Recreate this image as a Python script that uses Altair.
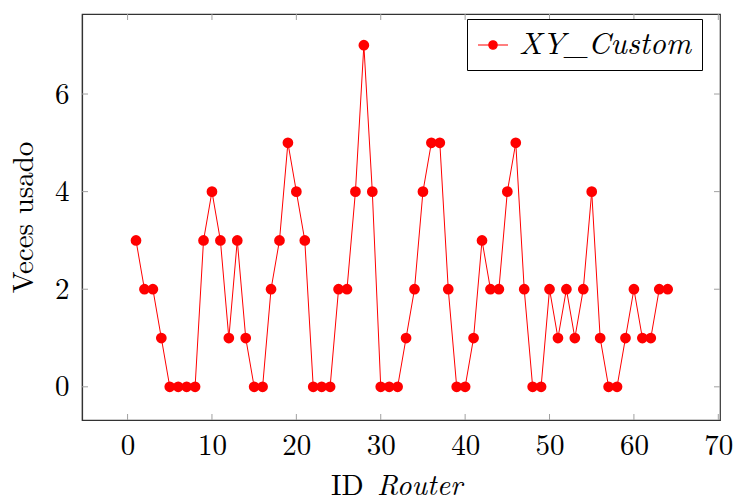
import altair as alt
import pandas as pd

router_ids = list(range(1, 65))
veces = [3, 2, 2, 1, 0, 0, 0, 0, 3, 4, 3, 1, 3, 1, 0, 0,
         2, 3, 5, 4, 3, 0, 0, 0, 2, 2, 4, 7, 4, 0, 0, 0,
         1, 2, 4, 5, 5, 2, 0, 0, 1, 3, 2, 2, 4, 5, 2, 0,
         0, 2, 1, 2, 1, 2, 4, 1, 0, 0, 1, 2, 1, 1, 2, 2]
series_name = "XY_Custom"
x_ticks = [0, 10, 20, 30, 40, 50, 60, 70]
y_ticks = [0, 2, 4, 6]

W, H = 638, 406
FONT = "Latin Modern Roman"
FRAME = "#333333"

df = pd.DataFrame({"id": router_ids, "v": veces, "s": [series_name] * len(router_ids)})
xt = pd.DataFrame({"t": x_ticks})
yt = pd.DataFrame({"t": y_ticks})
one = pd.DataFrame({"k": [0]})

xs = alt.Scale(domain=[-5.4, 70.2], nice=False, zero=False)
ys = alt.Scale(domain=[-0.68, 7.64], nice=False, zero=False)

sym = "M-1,0H1M0.28,0A0.28,0.28,0,1,1,-0.28,0A0.28,0.28,0,1,1,0.28,0Z"

base = alt.Chart(df)
line = base.mark_line(color="red", strokeWidth=1).encode(
    x=alt.X("id:Q", scale=xs,
            axis=alt.Axis(values=x_ticks, title=None, ticks=False, grid=False,
                          labelPadding=11, domainColor=FRAME,
                          labelFont=FONT, labelFontSize=29, labelColor="black")),
    y=alt.Y("v:Q", scale=ys,
            axis=alt.Axis(values=y_ticks, title="Veces usado", ticks=False, grid=False,
                          labelPadding=13, titlePadding=16, domainColor=FRAME,
                          labelFont=FONT, labelFontSize=29, labelColor="black",
                          titleFont=FONT, titleFontSize=29, titleFontWeight="normal",
                          titleColor="black")),
    color=alt.Color("s:N", scale=alt.Scale(range=["red"]),
                    legend=alt.Legend(title=None, orient="none", legendX=385, legendY=5,
                                      symbolType=sym, symbolSize=900, symbolStrokeWidth=1.2,
                                      symbolFillColor="red", symbolStrokeColor="red",
                                      labelFont=FONT, labelFontStyle="italic", labelFontSize=31,
                                      labelColor="black", labelLimit=0,
                                      strokeColor="black", padding=10, labelOffset=10,
                                      fillColor="white")),
)
pts = base.mark_circle(color="red", size=115, opacity=1).encode(
    x=alt.X("id:Q", scale=xs), y=alt.Y("v:Q", scale=ys))

tick_col = "#a0a0a0"
xb = alt.Chart(xt).mark_rule(color=tick_col, strokeWidth=1).encode(
    x=alt.X("t:Q", scale=xs), y=alt.value(H), y2=alt.value(H - 6))
xtp = alt.Chart(xt).mark_rule(color=tick_col, strokeWidth=1).encode(
    x=alt.X("t:Q", scale=xs), y=alt.value(0), y2=alt.value(6))
yl = alt.Chart(yt).mark_rule(color=tick_col, strokeWidth=1).encode(
    y=alt.Y("t:Q", scale=ys), x=alt.value(0), x2=alt.value(6))
yr = alt.Chart(yt).mark_rule(color=tick_col, strokeWidth=1).encode(
    y=alt.Y("t:Q", scale=ys), x=alt.value(W), x2=alt.value(W - 6))

t1 = alt.Chart(one).mark_text(text="ID", font=FONT, fontSize=29, align="left",
                              baseline="alphabetic", color="black").encode(
    x=alt.value(249), y=alt.value(481))
t2 = alt.Chart(one).mark_text(text="Router", font=FONT, fontSize=29, fontStyle="italic",
                              align="left", baseline="alphabetic", color="black").encode(
    x=alt.value(295), y=alt.value(481))

chart = alt.layer(xb, xtp, yl, yr, line, pts, t1, t2).properties(
    width=W, height=H,
    autosize=alt.AutoSizeParams(type="none"),
    padding={"left": 82, "top": 14, "right": 13, "bottom": 82},
).configure_view(stroke=FRAME, strokeWidth=1.2).configure_axis(domainWidth=1.2)

chart.save("out.html", embed_options={"renderer": "svg", "actions": False})
